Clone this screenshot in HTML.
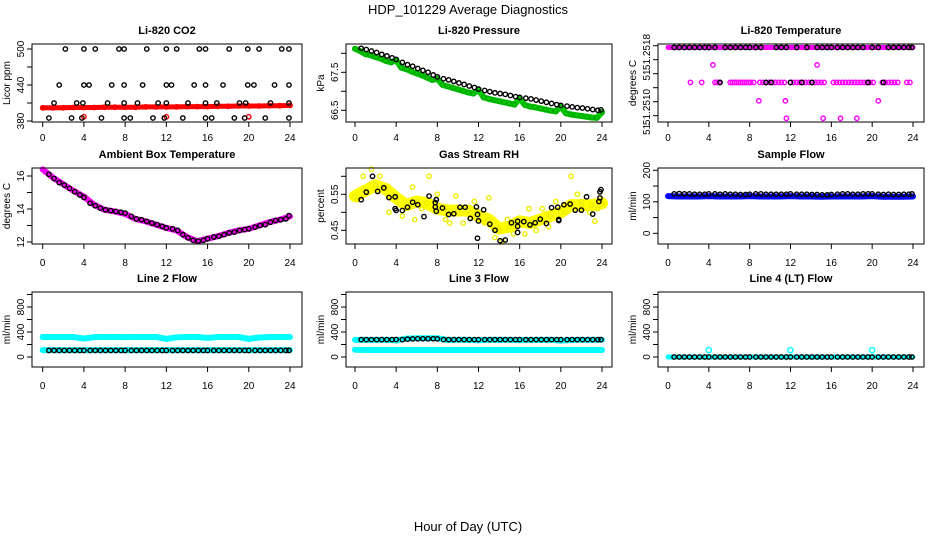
<!DOCTYPE html>
<html><head><meta charset="utf-8"><style>
body{margin:0;background:#fff}
svg{display:block;font-family:"Liberation Sans",sans-serif}
</style></head><body>
<svg id="c" width="936" height="540" viewBox="0 0 936 540">
<text x="468" y="14" text-anchor="middle" font-size="13">HDP_101229  Average Diagnostics</text>
<text x="468" y="531" text-anchor="middle" font-size="13">Hour of Day (UTC)</text>
</svg>
<script>
// ---- data ----
const blackT=[0.6,1.1,1.6,2.1,2.6,3.1,3.6,4.0,4.6,5.1,5.6,6.1,6.6,7.1,7.6,8.0,8.6,9.1,9.6,10.1,10.6,11.1,11.6,12.0,12.6,13.1,13.6,14.1,14.6,15.1,15.6,16.0,16.6,17.1,17.6,18.1,18.6,19.1,19.6,20.0,20.6,21.1,21.6,22.1,22.6,23.1,23.6,23.9];
const hourT=[0,1,2,3,4,5,6,7,8,9,10,11,12,13,14,15,16,17,18,19,20,21,22,23,24];
const xTicks=[0,4,8,12,16,20,24];
// CO2
const co2BlackT=[2.2,4,5.1,7.4,7.9,10.1,12,13,15.2,15.8,18.1,19.9,21,23.2,23.9,1.6,4,4.5,6.7,7.9,9.7,12,12.5,14.7,15.8,17.5,19.9,20.5,22.5,23.9,1.1,3.3,3.9,6.3,7.9,9.2,11.2,12,14.1,15.8,16.9,19.1,19.7,22.1,23.9,0.6,2.8,3.8,5.7,7.9,8.5,10.7,11.8,13.6,15.8,16.4,18.6,19.6,21.6,23.9];
const co2BlackV=[500,500,500,500,500,500,500,500,500,500,500,500,500,500,500,440,440,440,440,440,440,440,440,440,440,440,440,440,440,440,410,410,410,410,410,410,410,410,410,410,410,410,410,410,410,385,385,385,385,385,385,385,385,385,385,385,385,385,385,385];
const co2Red=[402,402,402,402.5,402.5,402.5,403,403,403,403,403.5,403.5,403.5,403.5,404,404,404,404.5,404.5,405,405,405,405.5,405.5,406];
const co2RedOutT=[4,12,20];
const co2RedOutV=[387,387,387];
// Pressure
const presGreenT=[0,0.5,1,1.5,2,2.5,3,3.5,4,4.5,5,5.5,6,6.5,7,7.5,8,8.5,9,9.5,10,10.5,11,11.5,12,12.5,13,13.5,14,14.5,15,15.5,16,16.5,17,17.5,18,18.5,19,19.5,20,20.5,21,21.5,22,22.5,23,23.5,24];
const presGreen=[68.12,68.06,67.98,67.95,67.9,67.86,67.8,67.76,67.82,67.62,67.58,67.52,67.47,67.42,67.36,67.3,67.33,67.17,67.13,67.09,67.05,67.01,66.97,66.94,67.04,66.84,66.8,66.77,66.74,66.71,66.68,66.65,66.82,66.64,66.6,66.58,66.55,66.52,66.49,66.47,66.6,66.42,66.39,66.37,66.35,66.33,66.31,66.3,66.45];
const presBlack=[68.13,68.1,68.06,68.02,67.97,67.93,67.88,67.84,67.76,67.7,67.66,67.6,67.55,67.5,67.43,67.38,67.33,67.3,67.26,67.22,67.18,67.14,67.1,67.06,67.02,66.99,66.96,66.94,66.92,66.89,66.86,66.84,66.82,66.8,66.77,66.74,66.71,66.68,66.65,66.63,66.61,66.59,66.57,66.56,66.54,66.52,66.5,66.51];
// Li-820 temperature
const tempLevels=[51.25178,51.25158,51.25138,51.25117,51.25097];
const tempMagT=[2.2,3.3,4.6,4.8,5.0,6.1,6.3,6.5,6.7,6.9,7.1,7.3,7.5,7.7,7.9,8.1,8.4,9.0,9.3,9.6,9.9,10.2,10.5,10.8,11.1,11.4,12.0,12.3,12.6,12.9,13.2,13.5,13.8,14.1,14.4,14.7,15.0,15.3,16.2,16.5,16.8,17.1,17.4,17.7,18.0,18.3,18.6,18.9,19.2,19.5,19.8,20.1,21.0,21.3,21.6,21.9,22.2,22.5,23.4,23.7,4.4,14.6,8.9,11.5,20.6,11.6,15.2,16.9,18.5];
const tempMagLevel=[2,2,2,2,2,2,2,2,2,2,2,2,2,2,2,2,2,2,2,2,2,2,2,2,2,2,2,2,2,2,2,2,2,2,2,2,2,2,2,2,2,2,2,2,2,2,2,2,2,2,2,2,2,2,2,2,2,2,2,2,1,1,3,3,3,4,4,4,4];
const tempBlackLevel=[0,0,0,0,0,0,0,0,0,2,0,0,0,0,0,0,0,0,2,2,0,0,0,2,0,2,0,2,0,0,0,0,0,0,0,0,0,0,2,0,0,2,0,0,0,0,0,0];
// Ambient temperature
const ambMag=[16.4,15.9,15.5,15.1,14.75,14.25,13.95,13.85,13.7,13.4,13.25,13.05,12.85,12.7,12.3,12.05,12.2,12.35,12.55,12.7,12.8,13.0,13.2,13.35,13.55];
const ambBlack=[16.1,15.85,15.6,15.45,15.25,15.05,14.85,14.7,14.35,14.2,14.05,13.95,13.9,13.85,13.8,13.75,13.55,13.4,13.35,13.25,13.15,13.05,12.95,12.85,12.8,12.7,12.45,12.25,12.1,12.05,12.1,12.2,12.3,12.35,12.45,12.55,12.6,12.7,12.75,12.8,12.9,13.0,13.05,13.2,13.3,13.35,13.4,13.6];
// RH
const rhYellow=[0.545,0.56,0.575,0.565,0.54,0.52,0.53,0.525,0.51,0.505,0.505,0.505,0.49,0.48,0.455,0.46,0.475,0.47,0.48,0.49,0.5,0.52,0.52,0.52,0.525];
const rhYelT=[0.2,0.8,1.6,2.4,3.3,4.6,5.6,5.8,6.5,7.2,8,8.8,9.2,9.8,10.5,11.6,12.6,13,13.6,14,14.3,14.8,15.4,16.5,16.9,17.6,18.2,18.8,19.5,20.4,21,21.6,22,22.8,23.3,23.6];
const rhYelV=[0.535,0.6,0.62,0.6,0.5,0.49,0.57,0.48,0.51,0.6,0.55,0.48,0.47,0.545,0.47,0.53,0.47,0.54,0.43,0.45,0.42,0.48,0.44,0.44,0.51,0.45,0.51,0.46,0.53,0.5,0.6,0.55,0.53,0.5,0.475,0.51];
const rhBlackT=[0.6,1.1,1.7,2.2,2.8,3.3,3.9,3.9,4,4.6,5.1,5.6,6.1,6.7,7.2,7.8,7.8,7.9,7.9,8.5,9.1,9.6,10.2,10.7,11.2,11.8,11.9,12,11.9,12.5,13.1,13.6,14.1,14.6,15.2,15.8,15.8,15.8,16.4,17,17.5,18,18.6,19.1,19.7,19.8,19.8,20.3,20.9,21.4,22,22.5,23.1,23.7,23.8,23.8,23.9];
const rhBlackV=[0.535,0.556,0.6,0.558,0.568,0.541,0.543,0.51,0.505,0.505,0.514,0.528,0.521,0.488,0.545,0.527,0.515,0.535,0.503,0.512,0.494,0.496,0.514,0.514,0.483,0.515,0.494,0.476,0.428,0.507,0.467,0.45,0.421,0.423,0.471,0.475,0.461,0.444,0.474,0.465,0.471,0.481,0.469,0.513,0.514,0.48,0.477,0.521,0.523,0.506,0.506,0.543,0.495,0.53,0.54,0.557,0.563];
// Sample flow
const sampleBlue=[118,117,117,117,118,117,117,117,118,117,117,117,118,117,117,116,117,117,117,117,118,116,116,116,117];
const sampleBlack=[125,126,125,125,124,124,124,125,125,124,125,124,124,123,123,124,125,125,124,124,124,124,124,125,124,124,124,123,123,122,122,123,124,125,125,124,124,125,125,125,124,123,124,123,123,124,124,125];
// Line 2
const l2CyanHi=[320,320,320,320,295,318,320,320,318,320,320,320,290,315,320,320,305,320,320,320,290,312,318,320,320];
const l2CyanLo=[110,110,110,110,110,110,110,110,110,110,110,110,110,110,110,110,110,110,110,110,110,110,110,110,110];
const l2Black=[105,105,105,105,105,105,105,105,105,105,105,105,105,105,105,105,105,105,105,105,105,105,105,105,105,105,105,105,105,105,105,105,105,105,105,105,105,105,105,105,105,105,105,105,105,105,105,105];
// Line 3
const l3CyanHi=[275,275,275,275,265,295,300,300,300,272,275,275,268,275,275,275,270,275,275,275,262,272,275,275,275];
const l3CyanLo=[115,112,112,112,112,112,112,112,112,112,112,112,112,112,112,112,112,112,112,112,112,112,112,112,112];
const l3Black=[278,278,278,278,278,278,278,280,278,285,290,292,292,292,292,290,278,278,278,278,278,278,278,278,278,278,278,278,278,278,278,278,278,278,278,278,278,278,278,278,278,278,278,278,278,278,278,278];
// Line 4
const l4Cyan=[0,0,0,0,0,0,0,0,0,0,0,0,0,0,0,0,0,0,0,0,0,0,0,0,0];
const l4CyanOutT=[4,12,20];
const l4CyanOutV=[110,110,110];
const l4Black=[0,0,0,0,0,0,0,0,0,0,0,0,0,0,0,0,0,0,0,0,0,0,0,0,0,0,0,0,0,0,0,0,0,0,0,0,0,0,0,0,0,0,0,0,0,0,0,0];

// ---- drawing ----
const NS='http://www.w3.org/2000/svg';
const svg=document.getElementById('c');
const cols=[{L:32,R:302,x0:42.7,x1:290},{L:346,R:612,x0:355,x1:602},{L:658,R:924,x0:668,x1:913}];
const rows=[{T:44,B:122,title:34,lab:137},{T:168,B:244,title:158,lab:262},{T:292,B:367,title:282,lab:385}];
function mk(tag,attrs,parent){const e=document.createElementNS(NS,tag);for(const k in attrs)e.setAttribute(k,attrs[k]);(parent||svg).appendChild(e);return e;}
function linY(v1,y1,v2,y2){return v=>y1+(v-v1)*(y2-y1)/(v2-v1);}

function panel(ci,ri,name,title,ylab,ys,ticks,draw,customLabels){
  const c=cols[ci],r=rows[ri];
  const xs=t=>c.x0+t*(c.x1-c.x0)/24;
  const g=mk('g',{});
  
  
  const tt=mk('text',{x:(c.L+c.R)/2,y:r.title,'text-anchor':'middle','font-size':11,'font-weight':'bold'},g);
  tt.textContent=title;
  
  
  const plot=mk('g',{},g);
  
  
  draw(plot,xs,ys);
  const box=mk('rect',{x:c.L,y:r.T,width:c.R-c.L,height:r.B-r.T,fill:'none',stroke:'#000','stroke-width':1},g);
  
  
  // x axis
  const xa=mk('g',{},g);
  
  
  xTicks.forEach(t=>{
    mk('line',{x1:xs(t),x2:xs(t),y1:r.B,y2:r.B+5,stroke:'#000'},xa);
    const tx=mk('text',{x:xs(t),y:r.lab+4,'text-anchor':'middle','font-size':10},xa);
    tx.textContent=t;
  });
  // y axis
  const ya=mk('g',{},g);
  
  
  ticks.forEach(tk=>{
    const y=ys(tk.v);
    mk('line',{x1:c.L-5,x2:c.L,y1:y,y2:y,stroke:'#000'},ya);
    if(tk.label!=null){
      const tx=mk('text',{x:c.L-8,y:y,'text-anchor':'middle','font-size':10,transform:`rotate(-90 ${c.L-8} ${y})`},ya);
      tx.textContent=tk.label;
    }
  });
  if(customLabels)customLabels.forEach(cl=>{
    const tx=mk('text',{x:c.L-8,y:cl.y,'text-anchor':'middle','font-size':10,transform:`rotate(-90 ${c.L-8} ${cl.y})`},ya);
    tx.textContent=cl.text;
  });
  const yt=mk('text',{x:c.L-22,y:(r.T+r.B)/2,'text-anchor':'middle','font-size':10,transform:`rotate(-90 ${c.L-22} ${(r.T+r.B)/2})`},g);
  yt.textContent=ylab;
  
  
}
function pts(g,xs,ys,T,V,color,sname,r){
  const s=mk('g',{},g);
  
  
  T.forEach((t,i)=>{mk('circle',{cx:xs(t),cy:ys(V[i]),r:r||2.2,fill:'none',stroke:color,'stroke-width':1.4},s);});
}
function band(g,xs,ys,T,V,color,w,sname){
  const p=mk('polyline',{points:T.map((t,i)=>xs(t)+','+ys(V[i])).join(' '),fill:'none',stroke:color,'stroke-width':w,'stroke-linecap':'round','stroke-linejoin':'round'},g);
  
  
}
const T=(vals,labs)=>vals.map((v,i)=>({v:v,label:labs[i]}));

panel(0,0,'co2','Li-820 CO2','Licor ppm',linY(380,121,500,49),T([380,410,440,470,500],[380,null,440,null,500]),(g,xs,ys)=>{
  band(g,xs,ys,hourT,co2Red,'#f00',5,'co2-red-band');
  pts(g,xs,ys,hourT,co2Red,'#f00','co2-red-points');
  pts(g,xs,ys,co2RedOutT,co2RedOutV,'#f00','co2-red-outliers');
  pts(g,xs,ys,co2BlackT,co2BlackV,'#000','co2-black-points');
});
panel(1,0,'pressure','Li-820 Pressure','kPa',linY(66.5,110.3,67.5,72.3),T([66.5,67,67.5,68],[66.5,null,67.5,null]),(g,xs,ys)=>{
  band(g,xs,ys,presGreenT,presGreen,'#0c0',6,'pressure-green-band');
  pts(g,xs,ys,presGreenT,presGreen,'#0a0','pressure-green-points');
  pts(g,xs,ys,blackT,presBlack,'#000','pressure-black-points');
});
const tys=linY(51.2518,45.7,51.25164,59.7);
panel(2,0,'temperature','Li-820 Temperature','degrees C',tys,T([51.2518,51.25164,51.25148,51.25132,51.25116,51.251],[null,null,null,null,null,null]),(g,xs,ys)=>{
  band(g,xs,ys,[0,24],[tempLevels[0],tempLevels[0]],'#f0f',5,'temperature-magenta-band');
  pts(g,xs,ys,tempMagT,tempMagLevel.map(l=>tempLevels[l]),'#f0f','temperature-magenta-points');
  pts(g,xs,ys,blackT,tempBlackLevel.map(l=>tempLevels[l]),'#000','temperature-black-points');
},[{y:52,text:'51.2518'},{y:75,text:'51'},{y:107,text:'51.2510'},{y:128,text:'51.'}]);
panel(0,1,'ambient','Ambient Box Temperature','degrees C',linY(12,242,16,176),T([12,13,14,15,16],[12,null,14,null,16]),(g,xs,ys)=>{
  band(g,xs,ys,hourT,ambMag,'#f0f',6,'ambient-magenta-band');
  pts(g,xs,ys,blackT,ambBlack,'#000','ambient-black-points');
});
panel(1,1,'rh','Gas Stream RH','percent',linY(0.45,230.3,0.55,194.3),T([0.45,0.5,0.55,0.6],[0.45,null,0.55,null]),(g,xs,ys)=>{
  band(g,xs,ys,hourT,rhYellow,'#ff0',12,'rh-yellow-band');
  pts(g,xs,ys,hourT,rhYellow,'#ee0','rh-yellow-points');
  pts(g,xs,ys,rhYelT,rhYelV,'#ee0','rh-yellow-scatter');
  pts(g,xs,ys,rhBlackT,rhBlackV,'#000','rh-black-points');
});
panel(2,1,'sample-flow','Sample Flow','ml/min',linY(0,233.3,200,170.3),T([0,50,100,150,200],[0,null,100,null,200]),(g,xs,ys)=>{
  band(g,xs,ys,hourT,sampleBlue,'#00f',6,'sample-blue-band');
  pts(g,xs,ys,blackT,sampleBlack,'#000','sample-black-points');
});
const fy=linY(0,357,800,307);
const fticks=T([0,200,400,600,800,1000],[0,null,400,null,800,null]);
panel(0,2,'line2','Line 2 Flow','ml/min',fy,fticks,(g,xs,ys)=>{
  band(g,xs,ys,hourT,l2CyanHi,'#0ff',6,'line2-cyan-high');
  band(g,xs,ys,hourT,l2CyanLo,'#0ff',6,'line2-cyan-low');
  pts(g,xs,ys,blackT,l2Black,'#000','line2-black-points');
});
panel(1,2,'line3','Line 3 Flow','ml/min',fy,fticks,(g,xs,ys)=>{
  band(g,xs,ys,hourT,l3CyanHi,'#0ff',6,'line3-cyan-high');
  band(g,xs,ys,hourT,l3CyanLo,'#0ff',6,'line3-cyan-low');
  pts(g,xs,ys,blackT,l3Black,'#000','line3-black-points');
});
panel(2,2,'line4','Line 4 (LT) Flow','ml/min',fy,fticks,(g,xs,ys)=>{
  band(g,xs,ys,hourT,l4Cyan,'#0ff',5,'line4-cyan-band');
  pts(g,xs,ys,l4CyanOutT,l4CyanOutV,'#0ff','line4-cyan-outliers',2.6);
  pts(g,xs,ys,blackT,l4Black,'#000','line4-black-points');
});
</script>
</body></html>
